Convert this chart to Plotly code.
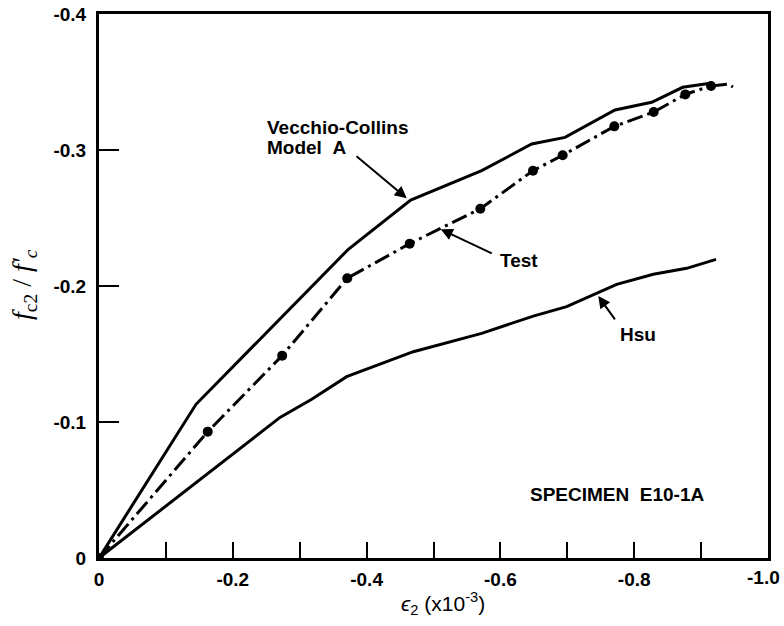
import plotly.graph_objects as go

# ---- data ----
test_x = [0.0, -0.1625, -0.2738, -0.3711, -0.4644, -0.5700, -0.6487, -0.6931, -0.7703, -0.8291, -0.8764, -0.9148]
test_y = [0.0, -0.0929, -0.1488, -0.2057, -0.2311, -0.2568, -0.2848, -0.2961, -0.3174, -0.3279, -0.3409, -0.3471]
test_tail_x = [-0.9148, -0.9402, -0.9477]
test_tail_y = [-0.3471, -0.3485, -0.3463]

vc_x = [0.0, -0.1450, -0.3727, -0.4659, -0.5720, -0.6468, -0.6966, -0.7713, -0.8261, -0.8725, -0.9163]
vc_y = [0.0, -0.1130, -0.2270, -0.2632, -0.2848, -0.3044, -0.3093, -0.3294, -0.3351, -0.3461, -0.3493]

hsu_x = [0.0, -0.2706, -0.3180, -0.3702, -0.4698, -0.5720, -0.6492, -0.6990, -0.7738, -0.8286, -0.8784, -0.9223]
hsu_y = [0.0, -0.1034, -0.1167, -0.1333, -0.1517, -0.1652, -0.1779, -0.1848, -0.2012, -0.2086, -0.2130, -0.2196]

x_ticks = [0, -0.1, -0.2, -0.3, -0.4, -0.5, -0.6, -0.7, -0.8, -0.9, -1.0]
x_ticktext = ["0", "", "-0.2", "", "-0.4", "", "-0.6", "", "-0.8", "", ""]
x_last_label = "-1.0"
y_ticks = [0, -0.1, -0.2, -0.3, -0.4]
y_ticktext = ["0", "-0.1", "-0.2", "-0.3", "-0.4"]

FONT = "Liberation Sans"

fig = go.Figure()
fig.add_trace(go.Scatter(x=vc_x, y=vc_y, mode="lines",
                         line=dict(color="black", width=3), showlegend=False))
fig.add_trace(go.Scatter(x=hsu_x, y=hsu_y, mode="lines",
                         line=dict(color="black", width=3), showlegend=False))
fig.add_trace(go.Scatter(x=test_tail_x, y=test_tail_y, mode="lines",
                         line=dict(color="black", width=3, dash="16px,5px,3px,5px"),
                         showlegend=False))
fig.add_trace(go.Scatter(x=test_x, y=test_y, mode="lines+markers",
                         line=dict(color="black", width=3, dash="16px,5px,3px,5px"),
                         marker=dict(color="black", size=10), showlegend=False))

txt = dict(family=FONT, size=19, color="black", weight="bold")
tickf = dict(family=FONT, size=19, color="black", weight="bold")

annotations = [
    dict(x=-0.46, y=-0.2645, ax=-0.3827, ay=-0.2963, xref="x", yref="y", axref="x", ayref="y",
         text="", showarrow=True, arrowhead=2, arrowsize=1.2, arrowwidth=2, arrowcolor="black"),
    dict(x=-0.5108, y=-0.2417, ax=-0.5894, ay=-0.2235, xref="x", yref="y", axref="x", ayref="y",
         text="", showarrow=True, arrowhead=2, arrowsize=1.2, arrowwidth=2, arrowcolor="black"),
    dict(x=-0.7463, y=-0.1926, ax=-0.7728, ay=-0.1743, xref="x", yref="y", axref="x", ayref="y",
         text="", showarrow=True, arrowhead=2, arrowsize=1.2, arrowwidth=2, arrowcolor="black"),
    dict(x=-0.2483, y=-0.3169, xref="x", yref="y", text="Vecchio-Collins", showarrow=False,
         xanchor="left", yanchor="middle", font=txt),
    dict(x=-0.2483, y=-0.3017, xref="x", yref="y", text="Model\u00a0\u00a0A", showarrow=False,
         xanchor="left", yanchor="middle", font=txt),
    dict(x=-0.596, y=-0.2191, xref="x", yref="y", text="Test", showarrow=False,
         xanchor="left", yanchor="middle", font=txt),
    dict(x=-0.7758, y=-0.164, xref="x", yref="y", text="Hsu", showarrow=False,
         xanchor="left", yanchor="middle", font=txt),
    dict(x=-0.6408, y=-0.0468, xref="x", yref="y", text="SPECIMEN\u00a0\u00a0E10-1A", showarrow=False,
         xanchor="left", yanchor="middle", font=txt),
    dict(x=x_ticks[-1], y=0, xref="x", yref="paper", text=x_last_label, showarrow=False,
         xanchor="right", yanchor="top", xshift=14, yshift=-7, font=tickf),
    dict(x=-0.112, y=0.502, xref="paper", yref="paper", textangle=-90,
         text="<i>f</i><sub>c2</sub> / <i>f'</i><sub><i>c</i></sub>", showarrow=False,
         xanchor="center", yanchor="middle",
         font=dict(family="Liberation Serif", size=28, color="black")),
    dict(x=0.514, y=-0.084, xref="paper", yref="paper",
         text="<i>\u03f5</i><sub>2</sub> (x10<sup>-3</sup>)", showarrow=False,
         xanchor="center", yanchor="middle",
         font=dict(family=FONT, size=21, color="black")),
]

fig.update_layout(
    width=784, height=626,
    margin=dict(l=99, r=16, t=14, b=68),
    paper_bgcolor="white", plot_bgcolor="white",
    annotations=annotations,
    xaxis=dict(range=[0, -1.0], tickvals=x_ticks, ticktext=x_ticktext, automargin=False,
               ticks="inside", ticklen=16, tickwidth=2, tickcolor="black",
               showline=True, linewidth=3, linecolor="black", mirror=True,
               showgrid=False, zeroline=False, ticklabelstandoff=2,
               tickfont=tickf),
    yaxis=dict(range=[0, -0.4], tickvals=y_ticks, ticktext=y_ticktext, automargin=False,
               ticks="inside", ticklen=20, tickwidth=2, tickcolor="black",
               showline=True, linewidth=3, linecolor="black", mirror=True,
               showgrid=False, zeroline=False, ticklabelstandoff=6,
               tickfont=tickf),
)

fig.write_html("out.html")
